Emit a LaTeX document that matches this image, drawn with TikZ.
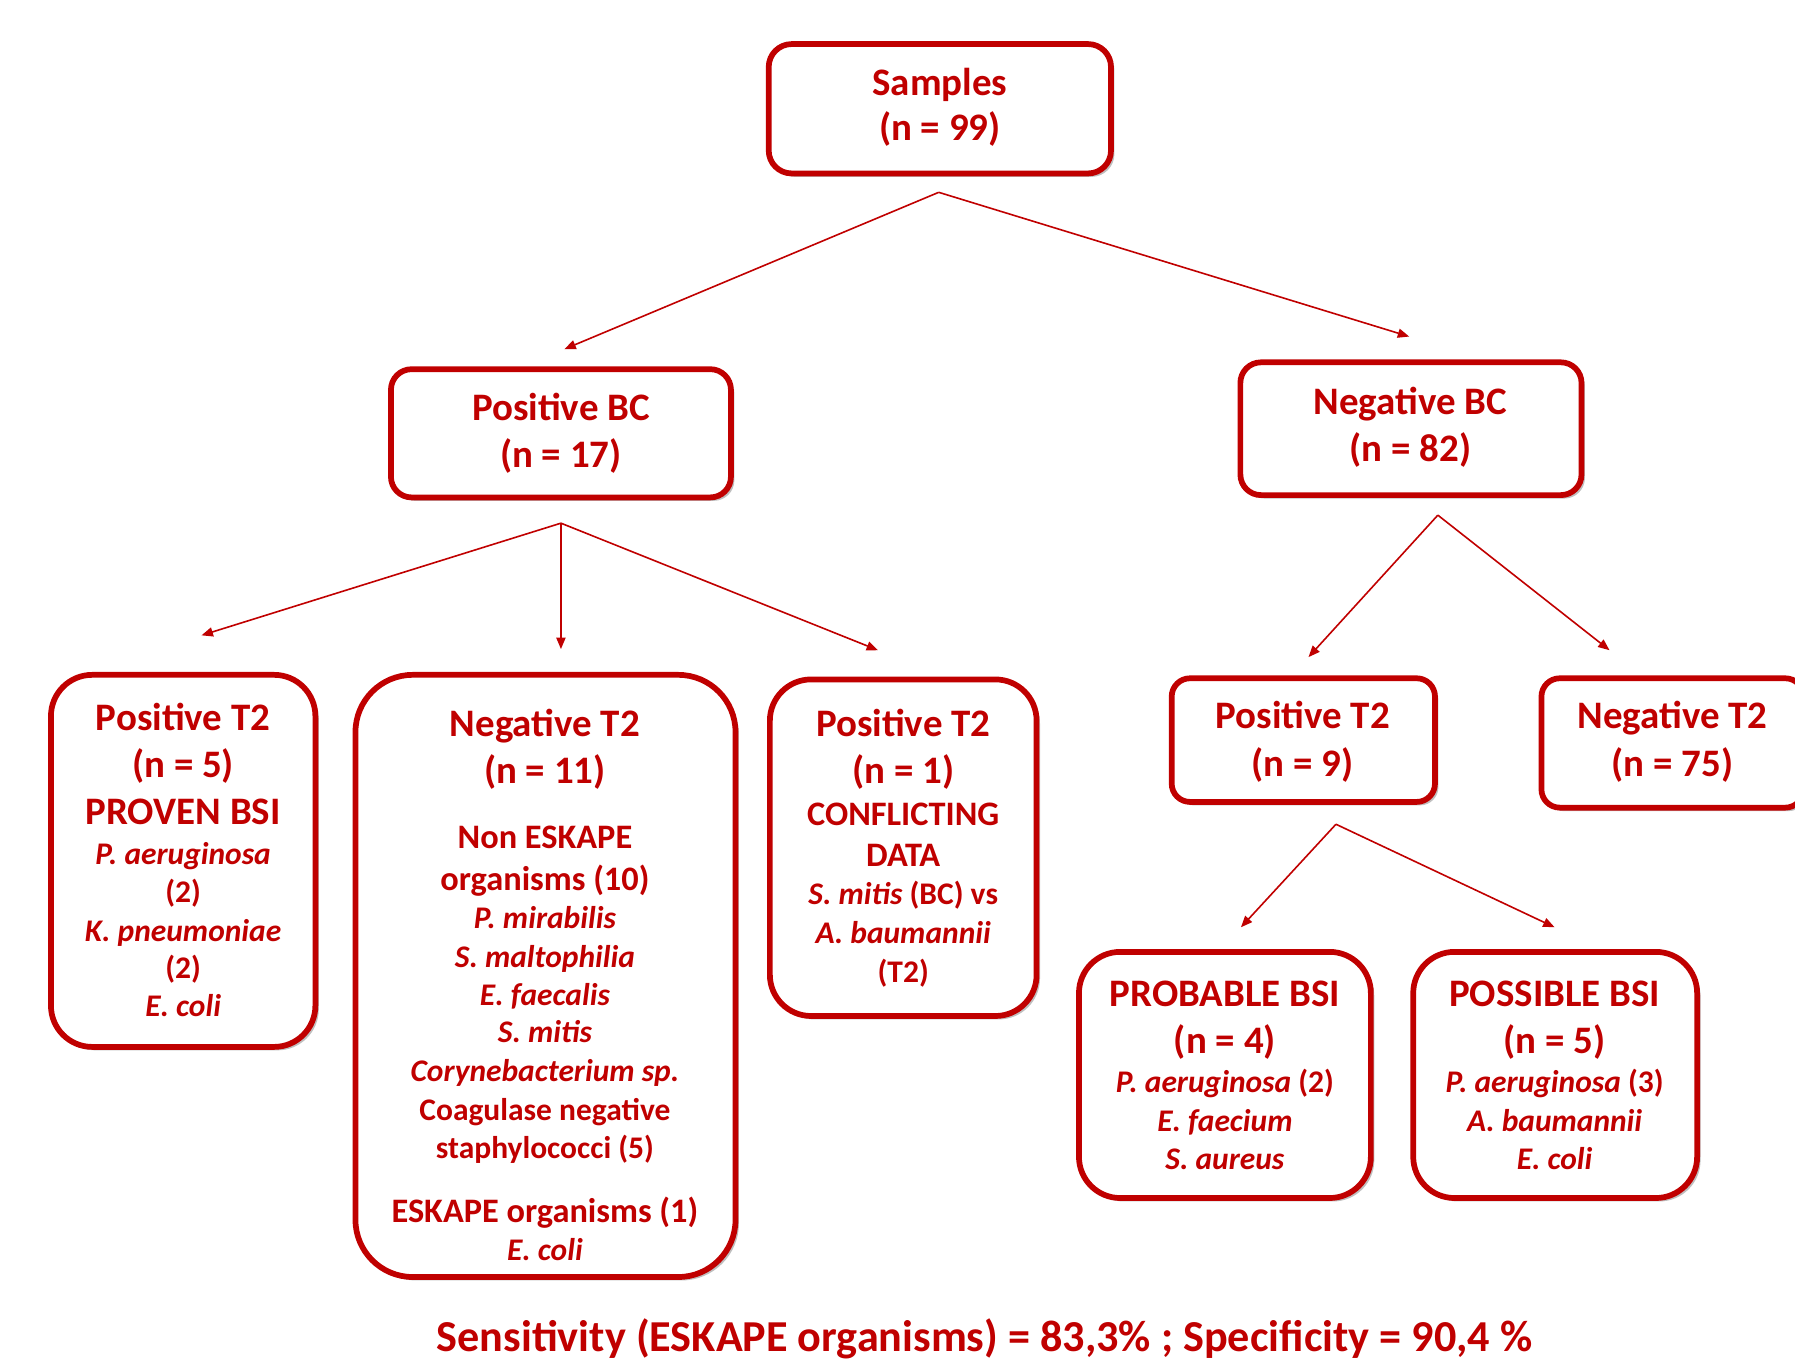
\documentclass[tikz,border=0pt]{standalone}
\usepackage{fontspec}
\setmainfont{Carlito}
\usetikzlibrary{arrows.meta,shadows}
\definecolor{dred}{HTML}{C00000}
\newcommand\fbig{\fontsize{34}{41}\selectfont\bfseries}
\newcommand\fmid{\fontsize{30}{36}\selectfont\bfseries}
\newcommand\fsml{\fontsize{27.5}{33}\selectfont\bfseries}
\newcommand\fita{\fontsize{27.5}{33}\selectfont\bfseries\itshape}
\newcommand\fbot{\fontsize{38.6}{46}\selectfont\bfseries}
\tikzset{
  box/.style={draw=dred, line width=5pt, fill=white, rounded corners=#1, inner sep=0pt,
    drop shadow={shadow xshift=3pt, shadow yshift=-3pt, fill=black, opacity=0.25}},
  tl/.style={anchor=base, inner sep=0pt, text=dred, font=#1},
  conn/.style={draw=dred, line width=1.4pt, -{Triangle[length=10pt,width=8pt]}}
}
\begin{document}
\begin{tikzpicture}[x=1pt,y=-1pt]
\useasboundingbox (0,0) rectangle (1568,1189);
% boxes
\node[box=20pt, minimum width=299pt, minimum height=113pt] (sam) at (821,95) {};
\node[box=18pt, minimum width=297pt, minimum height=112pt] (pbc) at (490,378.5) {};
\node[box=18pt, minimum width=298pt, minimum height=116pt] (nbc) at (1232.5,374.5) {};
\node[box=36pt, minimum width=231pt, minimum height=325pt] (pt5) at (160,752) {};
\node[box=50pt, minimum width=332pt, minimum height=526pt] (nt11) at (476.5,852.5) {};
\node[box=36pt, minimum width=233pt, minimum height=294pt] (pt1) at (789,740.5) {};
\node[box=16pt, minimum width=230pt, minimum height=108pt] (pt9) at (1138.5,646.5) {};
\node[box=16pt, minimum width=229pt, minimum height=113pt] (nt75) at (1461,649) {};
\node[box=36pt, minimum width=255pt, minimum height=215pt] (prob) at (1070,939) {};
\node[box=36pt, minimum width=248pt, minimum height=215pt] (poss) at (1358.5,939) {};
% texts
\node[tl=\fbig] (samA) at (821,83) {Samples};
\node[tl=\fbig] (samB) at (821,123) {(n = 99)};
\node[tl=\fbig] (pbcA) at (490,367) {Positive BC};
\node[tl=\fbig] (pbcB) at (490,408) {(n = 17)};
\node[tl=\fbig] (nbcA) at (1232,362) {Negative BC};
\node[tl=\fbig] (nbcB) at (1232,403) {(n = 82)};
% pt5
\node[tl=\fbig] (pt5A) at (160,638) {Positive T2};
\node[tl=\fbig] (pt5B) at (160,679) {(n = 5)};
\node[tl=\fbig] (pt5C) at (160,720) {PROVEN BSI};
\node[tl=\fita] (pt5D) at (160,755) {P. aeruginosa};
\node[tl=\fsml] (pt5E) at (160,788) {(2)};
\node[tl=\fita] (pt5F) at (160,822) {K. pneumoniae};
\node[tl=\fsml] (pt5G) at (160,855) {(2)};
\node[tl=\fita] (pt5H) at (160,888) {E. coli};
% nt11
\node[tl=\fbig] (ntA) at (476,643) {Negative T2};
\node[tl=\fbig] (ntB) at (476,684) {(n = 11)};
\node[tl=\fmid] (ntC) at (476,741) {Non ESKAPE};
\node[tl=\fmid] (ntD) at (476,778) {organisms (10)};
\node[tl=\fita] (ntE) at (476,811) {P. mirabilis};
\node[tl=\fita] (ntF) at (476,845) {S. maltophilia};
\node[tl=\fita] (ntG) at (476,878) {E. faecalis};
\node[tl=\fita] (ntH) at (476,911) {S. mitis};
\node[tl=\fita] (ntI) at (476,945) {Corynebacterium sp.};
\node[tl=\fsml] (ntJ) at (476,979) {Coagulase negative};
\node[tl=\fsml] (ntK) at (476,1012) {staphylococci (5)};
\node[tl=\fmid] (ntL) at (476,1068) {ESKAPE organisms (1)};
\node[tl=\fita] (ntM) at (476,1101) {E. coli};
% pt1
\node[tl=\fbig] (pt1A) at (789,643) {Positive T2};
\node[tl=\fbig] (pt1B) at (789,684) {(n = 1)};
\node[tl=\fmid] (pt1C) at (789,721) {CONFLICTING};
\node[tl=\fmid] (pt1D) at (789,757) {DATA};
\node[tl=\fsml] (pt1E) at (789,790) {\itshape S. mitis\upshape{} (BC) vs};
\node[tl=\fita] (pt1F) at (789,824) {A. baumannii};
\node[tl=\fsml] (pt1G) at (789,858) {(T2)};
% pt9, nt75
\node[tl=\fbig] (pt9A) at (1138,636) {Positive T2};
\node[tl=\fbig] (pt9B) at (1138,678) {(n = 9)};
\node[tl=\fbig] (n75A) at (1461,636) {Negative T2};
\node[tl=\fbig] (n75B) at (1461,678) {(n = 75)};
% prob, poss
\node[tl=\fbig] (prA) at (1070,879) {PROBABLE BSI};
\node[tl=\fbig] (prB) at (1070,920) {(n = 4)};
\node[tl=\fsml] (prC) at (1070,954) {\itshape P. aeruginosa\upshape{} (2)};
\node[tl=\fita] (prD) at (1070,988) {E. faecium};
\node[tl=\fita] (prE) at (1070,1022) {S. aureus};
\node[tl=\fbig] (poA) at (1358,879) {POSSIBLE BSI};
\node[tl=\fbig] (poB) at (1358,920) {(n = 5)};
\node[tl=\fsml] (poC) at (1358,954) {\itshape P. aeruginosa\upshape{} (3)};
\node[tl=\fita] (poD) at (1358,988) {A. baumannii};
\node[tl=\fita] (poE) at (1358,1022) {E. coli};
% bottom
\node[tl=\fbot] (sens) at (860,1181) {Sensitivity (ESKAPE organisms) = 83,3\% ; Specificity = 90,4 \%};
% connector points
\coordinate (s0) at (820,168);
\coordinate (s1) at (493,305);
\coordinate (s2) at (1231,294);
\coordinate (p0) at (490,457);
\coordinate (p1) at (176,555);
\coordinate (p2) at (490,567);
\coordinate (p3) at (767,568);
\coordinate (n0) at (1256,450);
\coordinate (n1) at (1143,574);
\coordinate (n2) at (1406,568);
\coordinate (q0) at (1167,720);
\coordinate (q1) at (1084,810);
\coordinate (q2) at (1358,810);
\draw[conn] (s0) -- (s1);
\draw[conn] (s0) -- (s2);
\draw[conn] (p0) -- (p1);
\draw[conn] (p0) -- (p2);
\draw[conn] (p0) -- (p3);
\draw[conn] (n0) -- (n1);
\draw[conn] (n0) -- (n2);
\draw[conn] (q0) -- (q1);
\draw[conn] (q0) -- (q2);
\end{tikzpicture}
\end{document}
